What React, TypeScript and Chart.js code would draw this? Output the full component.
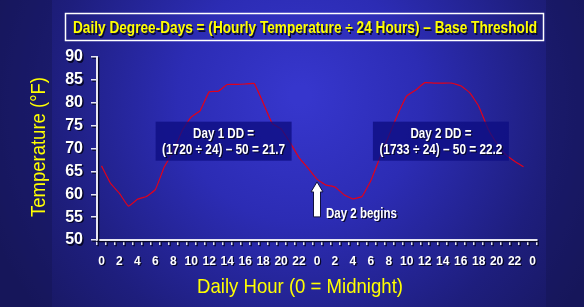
import React, { useEffect, useRef } from "react";
import { Chart, registerables } from "chart.js";

Chart.register(...registerables);

// ---------- data ----------
const hourLabels: string[] = [
  "0", "1", "2", "3", "4", "5", "6", "7", "8", "9", "10", "11",
  "12", "13", "14", "15", "16", "17", "18", "19", "20", "21", "22", "23",
  "0", "1", "2", "3", "4", "5", "6", "7", "8", "9", "10", "11",
  "12", "13", "14", "15", "16", "17", "18", "19", "20", "21", "22", "23",
  "0",
];

const day1Temps: number[] = [
  66.2, 62.4, 60.2, 57.4, 58.9, 59.5, 61.0, 66.0, 69.4, 74.0, 76.9, 78.3,
  82.4, 82.5, 84.0, 84.0, 84.1, 84.2, 80.0, 75.5, 74.3, 71.3, 68.0, 65.7,
];
const day2Temps: number[] = [
  63.3, 62.0, 61.6, 59.9, 59.0, 59.5, 63.0, 68.0, 72.8, 77.5, 81.5, 82.8,
  84.4, 84.3, 84.3, 84.3, 83.7, 82.2, 79.3, 74.5, 71.2, 68.7, 67.2, 66.0,
];
const temperatures: number[] = [...day1Temps, ...day2Temps];

const yMin = 50;
const yMax = 90;
const yStep = 5;

const titleText = "Daily Degree-Days = (Hourly Temperature \u00f7 24 Hours) \u2013 Base Threshold";
const yAxisTitle = "Temperature (\u00b0F)";
const xAxisTitle = "Daily Hour (0 = Midnight)";
const day1Lines = ["Day 1 DD =", "(1720 \u00f7 24) \u2013 50 = 21.7"];
const day2Lines = ["Day 2 DD =", "(1733 \u00f7 24) \u2013 50 = 22.2"];
const arrowLabel = "Day 2 begins";
// annotation anchors (hour index, temperature)
const day1Anchor = { hour: 13.6, temp: 71.6 };
const day2Anchor = { hour: 37.8, temp: 71.6 };
const arrowAnchor = { hour: 24, temp: 62.7 };

const W = 584;
const H = 307;
const SANS = '"Liberation Sans", Arial, sans-serif';

function drawText(
  ctx: CanvasRenderingContext2D,
  text: string,
  x: number,
  y: number,
  font: string,
  color: string,
  targetW: number | null,
  align: CanvasTextAlign = "center",
  shadow = true
) {
  ctx.save();
  ctx.font = font;
  const w = ctx.measureText(text).width;
  const sx = targetW ? targetW / w : 1;
  ctx.translate(x, y);
  ctx.scale(sx, 1);
  ctx.textAlign = align;
  ctx.textBaseline = "alphabetic";
  if (shadow) {
    ctx.fillStyle = "rgba(8,8,40,0.95)";
    ctx.fillText(text, 1.3 / sx, 1.3);
  }
  ctx.fillStyle = color;
  ctx.fillText(text, 0, 0);
  ctx.restore();
}

const decorPlugin = {
  id: "decor",
  beforeDraw(chart: any) {
    const ctx: CanvasRenderingContext2D = chart.ctx;
    ctx.save();
    // background
    ctx.fillStyle = "#1b1b72";
    ctx.fillRect(0, 0, W, H);
    const g = ctx.createRadialGradient(300, 95, 10, 300, 110, 330);
    g.addColorStop(0, "rgb(54,54,204)");
    g.addColorStop(0.35, "rgb(44,44,180)");
    g.addColorStop(0.75, "rgb(30,30,125)");
    g.addColorStop(1, "rgb(24,24,98)");
    ctx.fillStyle = g;
    ctx.fillRect(0, 0, W, H);
    ctx.fillStyle = "rgba(20,20,80,0.4)";
    ctx.fillRect(0, 0, 52, H);
    ctx.fillRect(546, 0, W - 546, H);
    // title box
    ctx.strokeStyle = "#ffffff";
    ctx.lineWidth = 1.5;
    ctx.strokeRect(65.5, 13.5, 478, 27);
    ctx.restore();
    drawText(ctx, titleText, 305, 33.3, `bold 17px ${SANS}`, "#ffff00", 464);
    // axis titles
    ctx.save();
    ctx.translate(45, 147);
    ctx.rotate(-Math.PI / 2);
    drawText(ctx, yAxisTitle, 0, 0, `20px ${SANS}`, "#ffff00", 140, "center", false);
    ctx.restore();
    drawText(ctx, xAxisTitle, 300, 293, `21px ${SANS}`, "#ffff00", 206, "center", false);
    // shadow for axes & ticks
    ctx.shadowColor = "rgba(5,5,35,0.95)";
    ctx.shadowOffsetX = 1.3;
    ctx.shadowOffsetY = 1.3;
    ctx.shadowBlur = 0;
  },
  beforeDatasetsDraw(chart: any) {
    const ctx: CanvasRenderingContext2D = chart.ctx;
    ctx.shadowColor = "rgba(0,0,0,0)";
    ctx.shadowOffsetX = 0;
    ctx.shadowOffsetY = 0;
  },
  afterDatasetsDraw(chart: any) {
    const ctx: CanvasRenderingContext2D = chart.ctx;
    const xs = chart.scales.x;
    const ys = chart.scales.y;
    const px = (h: number) => xs.getPixelForValue(0) + h * (xs.getPixelForValue(1) - xs.getPixelForValue(0));
    const boxes = [
      { a: day1Anchor, lines: day1Lines },
      { a: day2Anchor, lines: day2Lines },
    ];
    for (const b of boxes) {
      const cx = px(b.a.hour);
      const cy = ys.getPixelForValue(b.a.temp);
      ctx.save();
      ctx.fillStyle = "rgba(14,14,130,0.8)";
      ctx.fillRect(cx - 68, cy - 19.5, 136, 39);
      ctx.restore();
      drawText(ctx, b.lines[0], cx, cy - 3, `bold 14px ${SANS}`, "#ffffff", 61);
      drawText(ctx, b.lines[1], cx, cy + 13, `bold 14px ${SANS}`, "#ffffff", 123);
    }
    // arrow
    const ax = px(arrowAnchor.hour);
    const ay = ys.getPixelForValue(arrowAnchor.temp);
    ctx.save();
    ctx.beginPath();
    ctx.moveTo(ax, ay);
    ctx.lineTo(ax + 6, ay + 10);
    ctx.lineTo(ax + 3.5, ay + 10);
    ctx.lineTo(ax + 3.5, ay + 35);
    ctx.lineTo(ax - 3.5, ay + 35);
    ctx.lineTo(ax - 3.5, ay + 10);
    ctx.lineTo(ax - 6, ay + 10);
    ctx.closePath();
    ctx.fillStyle = "#ffffff";
    ctx.strokeStyle = "#101040";
    ctx.lineWidth = 1;
    ctx.fill();
    ctx.stroke();
    ctx.restore();
    drawText(ctx, arrowLabel, ax + 9, ay + 36, `bold 14px ${SANS}`, "#ffffff", 71, "left");
  },
};

export default function App() {
  const ref = useRef<HTMLCanvasElement | null>(null);
  useEffect(() => {
    if (!ref.current) return;
    const chart = new Chart(ref.current, {
      type: "line",
      data: {
        labels: hourLabels,
        datasets: [
          {
            data: temperatures,
            borderColor: "#e2001a",
            borderWidth: 1.2,
            pointRadius: 0,
            tension: 0.1,
            fill: false,
          },
        ],
      },
      options: {
        animation: false,
        responsive: false,
        maintainAspectRatio: false,
        events: [],
        layout: { padding: { top: 57, right: 47, left: 0, bottom: 0 } },
        plugins: { legend: { display: false }, tooltip: { enabled: false } },
        scales: {
          x: {
            type: "category",
            offset: true,
            afterFit: (s: any) => {
              s.height = 67;
            },
            grid: {
              display: true,
              offset: true,
              drawOnChartArea: false,
              drawTicks: true,
              tickLength: 5,
              color: "#e6e6f2",
              lineWidth: 1.5,
            },
            border: { display: true, color: "#e6e6f2", width: 2 },
            ticks: {
              autoSkip: false,
              maxRotation: 0,
              minRotation: 0,
              padding: 9,
              color: "#ffffff",
              font: { family: SANS, size: 12, weight: "bold" },
              callback: (_v: any, i: number) => (i % 2 === 0 ? hourLabels[i] : ""),
            },
          },
          y: {
            min: yMin,
            max: yMax,
            afterFit: (s: any) => {
              s.width = 97;
            },
            grid: {
              display: true,
              drawOnChartArea: false,
              drawTicks: true,
              tickLength: 6,
              color: "#e6e6f2",
              lineWidth: 1.5,
            },
            border: { display: true, color: "#e6e6f2", width: 2 },
            ticks: {
              stepSize: yStep,
              autoSkip: false,
              padding: 8,
              color: "#ffffff",
              font: { family: SANS, size: 16, weight: "bold" },
            },
          },
        },
      },
      plugins: [decorPlugin],
    } as any);
    return () => chart.destroy();
  }, []);
  return (
    <div style={{ position: "fixed", left: 0, top: 0, width: W, height: H }}>
      <canvas ref={ref} width={W} height={H} style={{ width: W, height: H, display: "block" }} />
    </div>
  );
}
